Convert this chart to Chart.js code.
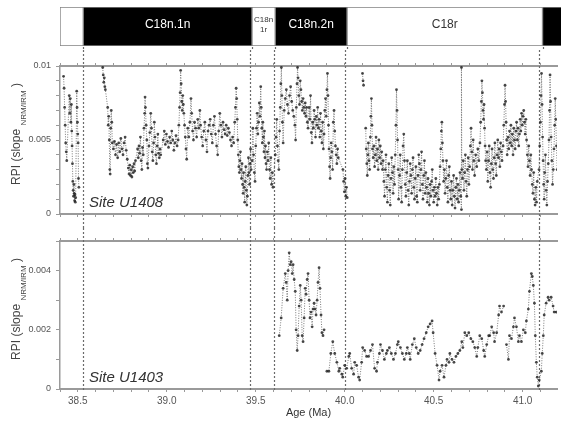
<!DOCTYPE html>
<html>
<head>
<meta charset="utf-8">
<script src="https://cdn.jsdelivr.net/npm/chart.js@4/dist/chart.umd.min.js"></script>
<style>
  body { margin: 0; background: #fff; }
  #wrap { position: relative; width: 561px; height: 423px; background: #fff; overflow: hidden; }
  canvas { position: absolute; left: 0; }
</style>
</head>
<body>
<div id="wrap">
  <canvas id="chron" width="561" height="50" style="top:0"></canvas>
  <canvas id="u1408" width="561" height="178" style="top:50px"></canvas>
  <canvas id="u1403" width="561" height="195" style="top:228px"></canvas>
</div>
<script>
// magnetic polarity chrons (Ma)
const chronStart = [38.40, 38.53, 39.47, 39.60, 40.00, 41.09];
const chronEnd = [38.53, 39.47, 39.60, 40.00, 41.09, 41.30];
const chronNormal = [false, true, false, true, false, true];
const chronNames = ['', 'C18n.1n', 'C18n\n1r', 'C18n.2n', 'C18r', ''];
const reversalAges = chronStart.slice(1);

const ageMin = 38.4;
const ageMax = 41.193;

// Site U1408 relative paleointensity
const u1408Age = [
  38.420, 38.423, 38.426, 38.429, 38.432, 38.435, 38.438,
  38.452, 38.455, 38.458, 38.461, 38.464, 38.466, 38.468, 38.470, 38.472, 38.474, 38.476, 38.478, 38.480, 38.482, 38.484, 38.486, 38.488,
  38.494, 38.496, 38.498, 38.500, 38.502, 38.504, 38.506, 38.508,
  38.640, 38.643, 38.646, 38.649, 38.652, 38.655,
  38.668, 38.671, 38.674, 38.677, 38.680, 38.682, 38.685, 38.688, 38.691, 38.694,
  38.700, 38.706, 38.712, 38.718, 38.724, 38.730, 38.736, 38.742, 38.748, 38.754, 38.760, 38.766, 38.772, 38.778,
  38.784, 38.788, 38.792, 38.796, 38.800, 38.804, 38.808, 38.812, 38.816, 38.820, 38.824,
  38.836, 38.840, 38.844, 38.848, 38.852, 38.856, 38.860, 38.864, 38.868, 38.872, 38.876, 38.878, 38.880, 38.884, 38.888, 38.891, 38.894,
  38.900, 38.905, 38.910, 38.914, 38.918, 38.922, 38.926, 38.930, 38.934, 38.938, 38.942, 38.946, 38.950, 38.954, 38.958, 38.962, 38.966,
  38.980, 38.986, 38.992, 38.998, 39.004, 39.010, 39.016, 39.022, 39.028, 39.034, 39.040, 39.046, 39.052, 39.058,
  39.064, 39.068, 39.072, 39.075, 39.078, 39.081, 39.084, 39.087, 39.090, 39.093, 39.096, 39.100, 39.104, 39.108, 39.112,
  39.118, 39.124, 39.130, 39.136, 39.140, 39.145, 39.150, 39.156, 39.162, 39.168, 39.174, 39.180, 39.186, 39.190, 39.196, 39.202, 39.208, 39.214, 39.220, 39.226, 39.232, 39.238, 39.244, 39.250,
  39.256, 39.262, 39.268, 39.274, 39.280, 39.286, 39.292, 39.298, 39.304, 39.310, 39.316, 39.322, 39.328, 39.334, 39.340, 39.346, 39.352, 39.358, 39.364, 39.370, 39.376,
  39.382, 39.386, 39.390, 39.393, 39.396, 39.399, 39.402, 39.405, 39.408, 39.411,
  39.414, 39.417, 39.420, 39.423, 39.426, 39.429, 39.432, 39.435, 39.438, 39.441, 39.444, 39.447, 39.450, 39.453, 39.456, 39.459, 39.462, 39.465, 39.468, 39.471, 39.474,
  39.480, 39.484, 39.488, 39.492, 39.496,
  39.500, 39.504, 39.508, 39.512, 39.516, 39.520, 39.524, 39.528, 39.531, 39.534, 39.537, 39.540, 39.543, 39.546, 39.549, 39.552, 39.555, 39.558, 39.561,
  39.565, 39.569, 39.573, 39.577, 39.581, 39.585, 39.589, 39.593, 39.597,
  39.610, 39.614, 39.618, 39.622, 39.626, 39.630, 39.634, 39.638, 39.641, 39.644, 39.647, 39.650, 39.654,
  39.660, 39.666, 39.672, 39.678, 39.684, 39.690, 39.696, 39.702, 39.708, 39.714,
  39.720, 39.724, 39.728, 39.732, 39.735, 39.738, 39.742, 39.746, 39.750, 39.754, 39.758, 39.762, 39.766, 39.770, 39.774, 39.778, 39.782, 39.786, 39.790, 39.794,
  39.800, 39.804, 39.808, 39.812, 39.816, 39.820, 39.824, 39.828, 39.832, 39.836,
  39.840, 39.844, 39.848, 39.852, 39.856, 39.860, 39.864, 39.868, 39.872, 39.876, 39.880, 39.884, 39.888, 39.892, 39.896,
  39.900, 39.903, 39.906, 39.909, 39.912, 39.915, 39.918, 39.921, 39.924, 39.928, 39.932, 39.936, 39.940, 39.944, 39.948, 39.952, 39.956, 39.960, 39.964,
  39.990, 39.994, 39.998, 40.002, 40.006, 40.010, 40.014, 40.050,
  40.100, 40.103, 40.106, 40.110,
  40.118, 40.121, 40.124, 40.127, 40.130, 40.133, 40.136, 40.140, 40.144, 40.147, 40.150, 40.153, 40.156, 40.160, 40.164, 40.168,
  40.172, 40.176, 40.180, 40.184, 40.188, 40.192, 40.196, 40.200, 40.204, 40.208, 40.212,
  40.216, 40.220, 40.224, 40.228, 40.232, 40.236, 40.240, 40.244, 40.248, 40.252, 40.256, 40.260, 40.264, 40.268, 40.272, 40.276, 40.280, 40.284, 40.288, 40.291, 40.294, 40.297, 40.300, 40.303,
  40.308, 40.312, 40.316, 40.320, 40.324, 40.328, 40.332, 40.336, 40.340, 40.344, 40.348, 40.352, 40.356, 40.360, 40.364, 40.368, 40.372, 40.376, 40.380, 40.384, 40.388, 40.392, 40.396, 40.400, 40.404, 40.408,
  40.412, 40.416, 40.420, 40.424, 40.428, 40.432, 40.436, 40.440, 40.444, 40.448, 40.452, 40.456, 40.460, 40.464, 40.468, 40.472, 40.476, 40.480, 40.484, 40.488, 40.492, 40.496, 40.500, 40.504, 40.508, 40.512,
  40.516, 40.520, 40.524, 40.528, 40.532, 40.536, 40.540, 40.543, 40.546, 40.549, 40.552, 40.556, 40.560, 40.564, 40.568, 40.572, 40.576, 40.580, 40.584, 40.588, 40.592,
  40.596, 40.600, 40.604, 40.608, 40.612, 40.616, 40.620, 40.624, 40.628, 40.632, 40.636, 40.640, 40.644, 40.648, 40.652, 40.656, 40.656, 40.658,
  40.662, 40.666, 40.670, 40.674, 40.678, 40.682, 40.686, 40.690, 40.694, 40.698, 40.702, 40.706, 40.710, 40.714, 40.718, 40.722, 40.726, 40.730,
  40.736, 40.742, 40.748, 40.754, 40.760, 40.764, 40.768, 40.771, 40.774, 40.777, 40.780, 40.783, 40.786, 40.789, 40.792,
  40.796, 40.800, 40.804, 40.808, 40.812, 40.816, 40.820, 40.824, 40.828, 40.832, 40.836, 40.840, 40.844, 40.848, 40.852, 40.856, 40.860, 40.864, 40.868, 40.872, 40.876, 40.880, 40.884,
  40.890, 40.894, 40.898, 40.901, 40.904, 40.907, 40.910, 40.913,
  40.918, 40.922, 40.926, 40.930, 40.934, 40.938, 40.942, 40.946, 40.950, 40.954, 40.958, 40.962, 40.966, 40.970, 40.974, 40.978, 40.982, 40.986, 40.990, 40.994, 40.998, 41.002, 41.006, 41.010, 41.014, 41.018,
  41.022, 41.026, 41.030, 41.034, 41.038, 41.042, 41.046, 41.050, 41.054, 41.058, 41.062, 41.066, 41.070, 41.074, 41.078, 41.082,
  41.092, 41.096, 41.100, 41.103, 41.106, 41.109, 41.112, 41.115, 41.118, 41.121, 41.124, 41.128, 41.132, 41.136, 41.140, 41.144, 41.148, 41.151, 41.154, 41.157, 41.160, 41.164, 41.168, 41.172, 41.176, 41.180, 41.183, 41.186, 41.190, 41.194
];
const u1408Rpi = [
  0.0093, 0.0085, 0.0072, 0.0060, 0.0048, 0.0042, 0.0036,
  0.0080, 0.0068, 0.0078, 0.0062, 0.0074, 0.0056, 0.0046, 0.0034, 0.0022, 0.0016, 0.0012, 0.0020, 0.0014, 0.0009, 0.0013, 0.0008, 0.0011,
  0.0083, 0.0072, 0.0062, 0.0054, 0.0048, 0.0024, 0.0018, null,
  0.0099, 0.0094, 0.0089, 0.0092, 0.0086, 0.0084,
  0.0072, 0.0060, 0.0066, 0.0050, 0.0030, 0.0027, 0.0058, 0.0070, 0.0062, 0.0048,
  0.0044, 0.0049, 0.0040, 0.0047, 0.0038, 0.0048, 0.0042, 0.0051, 0.0044, 0.0040, 0.0048, 0.0052, 0.0043, 0.0037,
  0.0031, 0.0027, 0.0033, 0.0026, 0.0030, 0.0025, 0.0032, 0.0028, 0.0034, 0.0029, 0.0036,
  0.0044, 0.0038, 0.0046, 0.0041, 0.0052, 0.0036, 0.0030, 0.0045, 0.0040, 0.0058, 0.0068, 0.0079, 0.0072, 0.0060, 0.0050, 0.0034, 0.0031,
  0.0046, 0.0055, 0.0068, 0.0058, 0.0042, 0.0036, 0.0048, 0.0062, 0.0052, 0.0040, 0.0034, 0.0046, 0.0054, 0.0041, 0.0038, 0.0044, 0.0040,
  0.0050, 0.0056, 0.0047, 0.0054, 0.0049, 0.0045, 0.0052, 0.0048, 0.0056, 0.0050, 0.0043, 0.0048, 0.0053, 0.0046,
  0.0050, 0.0060, 0.0072, 0.0082, 0.0097, 0.0088, 0.0076, 0.0070, 0.0080, 0.0074, 0.0068, 0.0060, 0.0052, 0.0044, 0.0037,
  0.0058, 0.0052, 0.0062, 0.0078, 0.0068, 0.0056, 0.0050, 0.0062, 0.0058, 0.0052, 0.0064, 0.0058, 0.0070, 0.0060, 0.0052, 0.0046, 0.0056, 0.0062, 0.0050, 0.0042, 0.0056, 0.0060, 0.0064, 0.0054,
  0.0048, 0.0060, 0.0066, 0.0054, 0.0046, 0.0040, 0.0056, 0.0068, 0.0060, 0.0052, 0.0062, 0.0057, 0.0054, 0.0060, 0.0053, 0.0058, 0.0055, 0.0050, 0.0046, 0.0052, 0.0048,
  0.0062, 0.0072, 0.0085, 0.0078, 0.0064, 0.0050, 0.0040, 0.0032, 0.0028, 0.0036,
  0.0042, 0.0030, 0.0024, 0.0034, 0.0020, 0.0014, 0.0028, 0.0018, 0.0008, 0.0022, 0.0032, 0.0016, 0.0006, 0.0012, 0.0026, 0.0038, 0.0028, 0.0020, 0.0034, 0.0044, 0.0030,
  0.0036, 0.0058, 0.0040, 0.0028, 0.0022,
  0.0046, 0.0058, 0.0068, 0.0054, 0.0062, 0.0075, 0.0066, 0.0086, 0.0072, 0.0058, 0.0048, 0.0062, 0.0052, 0.0042, 0.0056, 0.0038, 0.0046, 0.0034, 0.0030,
  0.0042, 0.0036, 0.0048, 0.0030, 0.0024, 0.0038, 0.0020, 0.0028, 0.0018,
  0.0040, 0.0052, 0.0064, 0.0046, 0.0036, 0.0030, 0.0056, 0.0072, 0.0088, 0.0099, 0.0080, 0.0062, 0.0048,
  0.0070, 0.0078, 0.0084, 0.0074, 0.0068, 0.0080, 0.0086, 0.0076, 0.0070, 0.0066,
  0.0060, 0.0050, 0.0072, 0.0088, 0.0099, 0.0092, 0.0080, 0.0074, 0.0090, 0.0084, 0.0076, 0.0070, 0.0078, 0.0072, 0.0068, 0.0075, 0.0066, 0.0072, 0.0062, 0.0058,
  0.0072, 0.0064, 0.0080, 0.0055, 0.0048, 0.0062, 0.0058, 0.0070, 0.0064, 0.0052,
  0.0066, 0.0060, 0.0072, 0.0058, 0.0064, 0.0052, 0.0068, 0.0056, 0.0048, 0.0062, 0.0044, 0.0054, 0.0070, 0.0078, 0.0066,
  0.0084, 0.0095, 0.0080, 0.0060, 0.0044, 0.0032, 0.0024, 0.0038, 0.0048, 0.0042, 0.0030, 0.0062, 0.0070, 0.0056, 0.0046, 0.0040, 0.0034, 0.0044, 0.0038,
  0.0030, 0.0022, 0.0015, 0.0024, 0.0012, 0.0018, 0.0011, null,
  0.0095, 0.0090, 0.0087, null,
  0.0058, 0.0044, 0.0034, 0.0026, 0.0040, 0.0048, 0.0036, 0.0030, 0.0052, 0.0066, 0.0078, 0.0060, 0.0044, 0.0038, 0.0046, 0.0032,
  0.0040, 0.0052, 0.0036, 0.0044, 0.0030, 0.0050, 0.0038, 0.0046, 0.0034, 0.0042, 0.0030,
  0.0036, 0.0022, 0.0012, 0.0030, 0.0040, 0.0018, 0.0008, 0.0026, 0.0034, 0.0016, 0.0006, 0.0024, 0.0038, 0.0028, 0.0014, 0.0032, 0.0020, 0.0040, 0.0060, 0.0084, 0.0070, 0.0050, 0.0030, 0.0010,
  0.0026, 0.0040, 0.0018, 0.0008, 0.0030, 0.0046, 0.0054, 0.0036, 0.0020, 0.0012, 0.0028, 0.0036, 0.0016, 0.0006, 0.0022, 0.0034, 0.0026, 0.0014, 0.0030, 0.0038, 0.0018, 0.0010, 0.0024, 0.0032, 0.0012, 0.0008,
  0.0026, 0.0040, 0.0034, 0.0016, 0.0030, 0.0042, 0.0020, 0.0010, 0.0026, 0.0036, 0.0014, 0.0028, 0.0018, 0.0008, 0.0024, 0.0014, 0.0006, 0.0020, 0.0012, 0.0022, 0.0030, 0.0016, 0.0008, 0.0018, 0.0012, 0.0024,
  0.0014, 0.0006, 0.0018, 0.0010, 0.0020, 0.0032, 0.0044, 0.0056, 0.0062, 0.0048, 0.0036, 0.0022, 0.0030, 0.0014, 0.0024, 0.0036, 0.0018, 0.0008, 0.0026, 0.0032, 0.0016,
  0.0010, 0.0022, 0.0006, 0.0016, 0.0026, 0.0012, 0.0004, 0.0018, 0.0024, 0.0010, 0.0020, 0.0008, 0.0016, 0.0028, 0.0012, 0.0003, 0.0099, 0.0030,
  0.0024, 0.0036, 0.0016, 0.0028, 0.0040, 0.0022, 0.0012, 0.0030, 0.0038, 0.0020, 0.0032, 0.0046, 0.0058, 0.0042, 0.0030, 0.0050, 0.0036, 0.0026,
  0.0040, 0.0032, 0.0044, 0.0036, 0.0048, 0.0062, 0.0076, 0.0090, 0.0082, 0.0070, 0.0064, 0.0074, 0.0058, 0.0046, 0.0036,
  0.0030, 0.0042, 0.0022, 0.0036, 0.0046, 0.0028, 0.0018, 0.0034, 0.0044, 0.0030, 0.0024, 0.0038, 0.0048, 0.0034, 0.0026, 0.0040, 0.0050, 0.0038, 0.0044, 0.0032, 0.0048, 0.0042, 0.0036,
  0.0046, 0.0060, 0.0074, 0.0087, 0.0076, 0.0062, 0.0050, 0.0040,
  0.0052, 0.0044, 0.0056, 0.0048, 0.0060, 0.0046, 0.0054, 0.0040, 0.0058, 0.0050, 0.0044, 0.0056, 0.0062, 0.0050, 0.0058, 0.0046, 0.0054, 0.0064, 0.0056, 0.0068, 0.0060, 0.0066, 0.0070, 0.0062, 0.0054, 0.0064,
  0.0050, 0.0040, 0.0032, 0.0046, 0.0036, 0.0026, 0.0040, 0.0030, 0.0020, 0.0014, 0.0028, 0.0010, 0.0006, 0.0018, 0.0008, 0.0022,
  0.0030, 0.0046, 0.0062, 0.0080, 0.0095, 0.0074, 0.0052, 0.0036, 0.0020, 0.0010, 0.0028, 0.0040, 0.0016, 0.0006, 0.0022, 0.0034, 0.0050, 0.0070, 0.0094, 0.0076, 0.0052, 0.0036, 0.0020, 0.0030, 0.0044, 0.0060, 0.0078, 0.0064, 0.0046, 0.0030
];

// Site U1403 relative paleointensity
const u1403Age = [
  39.632, 39.643, 39.654, 39.666, 39.671, 39.677, 39.682, 39.688, 39.694, 39.699,
  39.705, 39.710, 39.716, 39.722, 39.727, 39.733, 39.738, 39.744, 39.750, 39.755,
  39.761, 39.766, 39.772, 39.778, 39.783, 39.789, 39.794, 39.800, 39.805, 39.811,
  39.817, 39.822, 39.828, 39.833, 39.839, 39.845, 39.850, 39.856, 39.861, 39.867,
  39.872, 39.878, 39.884, 39.890,
  39.900, 39.911, 39.922, 39.933, 39.944, 39.956, 39.967, 39.972, 39.984, 39.989,
  40.000, 40.011, 40.023, 40.028, 40.039, 40.050, 40.056, 40.067, 40.078, 40.084,
  40.095, 40.101, 40.112, 40.123, 40.134, 40.145, 40.156, 40.168, 40.179, 40.184,
  40.195, 40.201, 40.212, 40.223, 40.234, 40.240, 40.251, 40.262, 40.274, 40.285,
  40.296, 40.301, 40.313, 40.324, 40.335, 40.346, 40.352, 40.363, 40.368, 40.380,
  40.391, 40.402, 40.413, 40.424, 40.435, 40.446, 40.458, 40.469, 40.480, 40.491,
  40.497, 40.508, 40.519, 40.530, 40.536, 40.547, 40.558, 40.569, 40.575, 40.586,
  40.591, 40.603, 40.614, 40.625, 40.636, 40.647, 40.658, 40.664, 40.675, 40.686,
  40.697, 40.709, 40.720, 40.731, 40.742, 40.748, 40.759, 40.770, 40.781, 40.787,
  40.798, 40.809, 40.815, 40.826, 40.837, 40.842, 40.854, 40.865, 40.870, 40.881,
  40.893, 40.900,
  40.909, 40.920, 40.926, 40.937, 40.948, 40.954, 40.965, 40.976, 40.982, 40.993,
  41.004, 41.015, 41.021, 41.032, 41.038, 41.049, 41.054, 41.060, 41.066, 41.071,
  41.077, 41.082, 41.088, 41.093, 41.105, 41.110, 41.116, 41.121, 41.132, 41.143,
  41.149, 41.160, 41.171, 41.177, 41.188
];
const u1403Rpi = [
  0.0018, 0.0024, 0.0034, 0.0039, 0.0036, 0.0030, 0.0040, 0.0046, 0.0042, 0.0043,
  0.0039, 0.0042, 0.0037, 0.0033, 0.0020, 0.0013, 0.0018, 0.0028, 0.0035, 0.0030,
  0.0018, 0.0016, 0.0024, 0.0034, 0.0032, 0.0037, 0.0039, 0.0030, 0.0024, 0.0026,
  0.0021, 0.0027, 0.0029, 0.0027, 0.0025, 0.0030, 0.0036, 0.0041, 0.0034, 0.0025,
  0.0019, 0.0018, 0.0020, null,
  0.0006, 0.0006, 0.0012, 0.0016, 0.0012, 0.0009, 0.0006, 0.0007, 0.0005, 0.0004,
  0.0008, 0.0007, 0.0011, 0.0012, 0.0007, 0.0005, 0.0009, 0.0008, 0.0004, 0.0003,
  0.0009, 0.0014, 0.0013, 0.0011, 0.0011, 0.0013, 0.0015, 0.0007, 0.0006, 0.0009,
  0.0012, 0.0015, 0.0013, 0.0010, 0.0012, 0.0013, 0.0014, 0.0012, 0.0010, 0.0012,
  0.0015, 0.0016, 0.0014, 0.0012, 0.0010, 0.0012, 0.0014, 0.0012, 0.0010, 0.0015,
  0.0017, 0.0014, 0.0012, 0.0013, 0.0015, 0.0017, 0.0019, 0.0021, 0.0022, 0.0023,
  0.0019, 0.0012, 0.0008, 0.0003, 0.0006, 0.0008, 0.0004, 0.0008, 0.0010, 0.0009,
  0.0012, 0.0010, 0.0009, 0.0011, 0.0012, 0.0013, 0.0016, 0.0014, 0.0019, 0.0018,
  0.0019, 0.0017, 0.0016, 0.0014, 0.0011, 0.0014, 0.0018, 0.0017, 0.0013, 0.0011,
  0.0015, 0.0018, 0.0018, 0.0021, 0.0019, 0.0016, 0.0019, 0.0025, 0.0028, 0.0026,
  0.0028, null,
  0.0015, 0.0010, 0.0018, 0.0017, 0.0021, 0.0024, 0.0021, 0.0016, 0.0018, 0.0016,
  0.0020, 0.0019, 0.0023, 0.0027, 0.0033, 0.0039, 0.0038, 0.0035, 0.0029, 0.0018,
  0.0009, 0.0004, 0.0001, 0.0003, 0.0006, 0.0012, 0.0018, 0.0025, 0.0029, 0.0031,
  0.0030, 0.0031, 0.0028, 0.0026, 0.0026
];

const FONT = '"Liberation Sans", Arial, sans-serif';

function toPoints(ages, vals) {
  return ages.map((a, i) => ({ x: a, y: vals[i] }));
}

function reversalLines(range) {
  return {
    id: 'reversals',
    beforeDatasetsDraw(chart) {
      const ctx = chart.ctx;
      const x = chart.scales.x;
      const [y0, y1] = range(chart);
      ctx.save();
      ctx.strokeStyle = '#6a6a6a';
      ctx.lineWidth = 1.2;
      ctx.setLineDash([2, 2]);
      reversalAges.forEach(a => {
        const px = Math.round(x.getPixelForValue(a)) + 0.5;
        ctx.beginPath();
        ctx.moveTo(px, y0);
        ctx.lineTo(px, y1);
        ctx.stroke();
      });
      ctx.restore();
    }
  };
}

function drawRpiTitle(ctx, x, y) {
  const main = 'RPI (slope ';
  const sub = 'NRM/IRM';
  const end = ' )';
  ctx.save();
  ctx.translate(x, y);
  ctx.rotate(-Math.PI / 2);
  ctx.fillStyle = '#444';
  ctx.textBaseline = 'middle';
  ctx.textAlign = 'left';
  ctx.font = '12px ' + FONT;
  const w1 = ctx.measureText(main).width;
  const w3 = ctx.measureText(end).width;
  ctx.font = '8px ' + FONT;
  const w2 = ctx.measureText(sub).width;
  const sx = -(w1 + w2 + w3) / 2;
  ctx.font = '12px ' + FONT;
  ctx.fillText(main, sx, 0);
  ctx.font = '8px ' + FONT;
  ctx.fillText(sub, sx + w1, 7);
  ctx.font = '12px ' + FONT;
  ctx.fillText(end, sx + w1 + w2, 0);
  ctx.restore();
}

function panelDecor(site) {
  return {
    id: 'panelDecor',
    afterDraw(chart) {
      const { ctx, chartArea } = chart;
      drawRpiTitle(ctx, 17, (chartArea.top + chartArea.bottom) / 2 - 6);
      ctx.save();
      ctx.fillStyle = '#333';
      ctx.font = 'italic 15px ' + FONT;
      ctx.textBaseline = 'alphabetic';
      ctx.fillText(site, chartArea.left + 29, chartArea.bottom - 7);
      ctx.restore();
    }
  };
}

function ageAxis(position, showLabels) {
  return {
    type: 'linear',
    position: position,
    min: ageMin,
    max: ageMax,
    afterFit: s => { s.height = showLabels ? 30 : 0; },
    border: { color: '#9a9a9a', width: 2 },
    grid: { drawOnChartArea: false, tickLength: 3, color: '#9a9a9a' },
    ticks: {
      display: showLabels,
      stepSize: 0.1,
      includeBounds: false,
      autoSkip: false,
      maxRotation: 0,
      minRotation: 0,
      padding: 3,
      color: '#555',
      font: { family: FONT, size: 10 },
      callback: v => (Math.round(v * 10) % 5 === 0 ? v.toFixed(1) : '')
    }
  };
}

function rpiAxis(max, labelEvery) {
  return {
    min: 0,
    max: max,
    afterFit: s => { s.width = 60; },
    border: { color: '#9a9a9a', width: 1.5 },
    grid: { drawOnChartArea: false, tickLength: 4, color: '#9a9a9a' },
    ticks: {
      stepSize: 0.001,
      includeBounds: false,
      autoSkip: false,
      padding: 5,
      color: '#555',
      font: { family: FONT, size: 9 },
      callback: v => (Math.round(v * 10000) % labelEvery === 0 ? String(+v.toFixed(4)) : '')
    }
  };
}

function seriesStyle(radius) {
  return {
    showLine: true,
    borderColor: 'rgba(100,100,100,0.85)',
    borderWidth: 1,
    borderDash: [1, 1.5],
    pointRadius: radius,
    pointBackgroundColor: 'rgba(30,30,30,0.8)',
    pointBorderWidth: 0,
    spanGaps: false
  };
}

// polarity bar
new Chart(document.getElementById('chron'), {
  type: 'bar',
  data: {
    labels: ['polarity'],
    datasets: chronStart.map((s, i) => ({
      data: [[s, chronEnd[i]]],
      backgroundColor: chronNormal[i] ? '#000' : '#fff',
      borderColor: '#808080',
      borderWidth: 1,
      borderSkipped: false,
      barPercentage: 1,
      categoryPercentage: 1,
      grouped: false
    }))
  },
  options: {
    responsive: false,
    animation: false,
    events: [],
    indexAxis: 'y',
    layout: { padding: { left: 60, right: 0, top: 7, bottom: 4 } },
    plugins: { legend: { display: false }, tooltip: { enabled: false } },
    scales: {
      x: { type: 'linear', min: ageMin, max: ageMax, display: false },
      y: { display: false }
    }
  },
  plugins: [
    {
      id: 'chronLabels',
      afterDatasetsDraw(chart) {
        const { ctx, chartArea } = chart;
        const x = chart.scales.x;
        const cy = (chartArea.top + chartArea.bottom) / 2 - 2;
        ctx.save();
        ctx.textAlign = 'center';
        ctx.textBaseline = 'middle';
        chronNames.forEach((name, i) => {
          if (!name) return;
          const cx = x.getPixelForValue((chronStart[i] + chronEnd[i]) / 2);
          ctx.fillStyle = chronNormal[i] ? '#fff' : '#333';
          const lines = name.split('\n');
          if (lines.length > 1) {
            ctx.font = '8px ' + FONT;
            ctx.fillText(lines[0], cx, cy - 5);
            ctx.fillText(lines[1], cx, cy + 5);
          } else {
            ctx.font = '12px ' + FONT;
            ctx.fillText(name, cx, cy);
          }
        });
        ctx.restore();
      }
    },
    reversalLines(chart => [chart.chartArea.bottom + 1, chart.height])
  ]
});

// Site U1408
new Chart(document.getElementById('u1408'), {
  type: 'scatter',
  data: {
    datasets: [Object.assign({ label: 'U1408', data: toPoints(u1408Age, u1408Rpi) }, seriesStyle(1.4))]
  },
  options: {
    responsive: false,
    animation: false,
    events: [],
    layout: { padding: { left: 0, right: 0, top: 16, bottom: 14 } },
    plugins: { legend: { display: false }, tooltip: { enabled: false } },
    scales: {
      x: ageAxis('bottom', false),
      x2: ageAxis('top', false),
      y: rpiAxis(0.01, 50)
    }
  },
  plugins: [reversalLines(chart => [0, chart.height]), panelDecor('Site U1408')]
});

// Site U1403
new Chart(document.getElementById('u1403'), {
  type: 'scatter',
  data: {
    datasets: [Object.assign({ label: 'U1403', data: toPoints(u1403Age, u1403Rpi) }, seriesStyle(1.4))]
  },
  options: {
    responsive: false,
    animation: false,
    events: [],
    layout: { padding: { left: 0, right: 0, top: 13, bottom: 4 } },
    plugins: { legend: { display: false }, tooltip: { enabled: false } },
    scales: {
      x: ageAxis('bottom', true),
      x2: ageAxis('top', false),
      y: rpiAxis(0.005, 20)
    }
  },
  plugins: [
    reversalLines(chart => [0, chart.chartArea.bottom + 2]),
    panelDecor('Site U1403'),
    {
      id: 'ageTitle',
      afterDraw(chart) {
        const { ctx, chartArea } = chart;
        ctx.save();
        ctx.fillStyle = '#333';
        ctx.font = '11px ' + FONT;
        ctx.textAlign = 'center';
        ctx.textBaseline = 'middle';
        ctx.fillText('Age (Ma)', (chartArea.left + chartArea.right) / 2, chartArea.bottom + 24);
        ctx.restore();
      }
    }
  ]
});
</script>
</body>
</html>
